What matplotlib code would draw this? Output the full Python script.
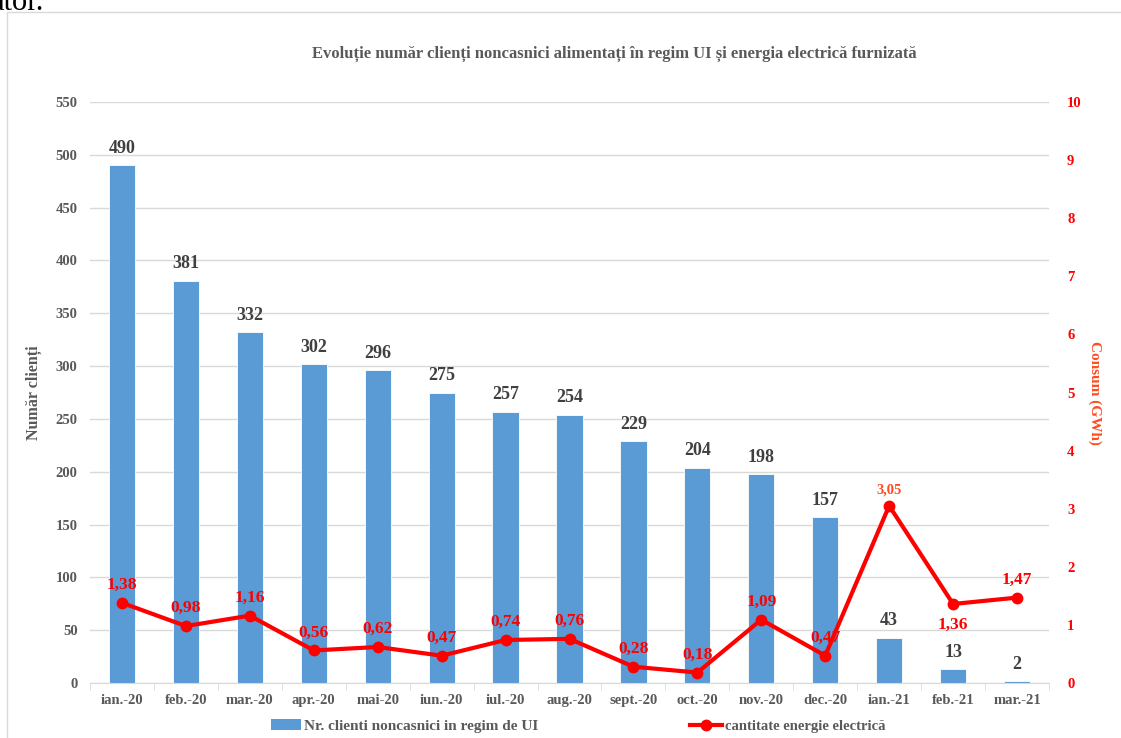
import matplotlib
matplotlib.use("Agg")
import matplotlib.pyplot as plt
from matplotlib.patches import Rectangle
from matplotlib.lines import Line2D
from matplotlib.patches import Patch

months = ["ian.-20", "feb.-20", "mar.-20", "apr.-20", "mai-20", "iun.-20", "iul.-20",
          "aug.-20", "sept.-20", "oct.-20", "nov.-20", "dec.-20", "ian.-21", "feb.-21", "mar.-21"]
clients = [490, 381, 332, 302, 296, 275, 257, 254, 229, 204, 198, 157, 43, 13, 2]
energy = [1.38, 0.98, 1.16, 0.56, 0.62, 0.47, 0.74, 0.76, 0.28, 0.18, 1.09, 0.47, 3.05, 1.36, 1.47]
energy_labels = ["1,38", "0,98", "1,16", "0,56", "0,62", "0,47", "0,74", "0,76", "0,28",
                 "0,18", "1,09", "0,47", "3,05", "1,36", "1,47"]
left_ticks = [0, 50, 100, 150, 200, 250, 300, 350, 400, 450, 500, 550]
right_ticks = [0, 1, 2, 3, 4, 5, 6, 7, 8, 9, 10]

plt.rcParams['font.family'] = ['Liberation Serif', 'DejaVu Serif']
plt.rcParams['font.weight'] = 'bold'

W, H = 1121, 738
fig = plt.figure(figsize=(W / 100, H / 100), dpi=100)

# frame of embedded chart
fig.patches.append(Rectangle((7 / W, -0.05), 1.2, 1 - 12 / H + 0.05, transform=fig.transFigure,
                             fill=False, edgecolor='#D9D9D9', linewidth=1.0))
fig.text(-0.008, 1 - 10 / H, "ator.", fontsize=22, color='black', fontweight='normal',
         ha='left', va='baseline')

ax = fig.add_axes([90 / W, 1 - 683 / H, (1049 - 90) / W, (683 - 102) / H])
x = list(range(len(months)))
grey = '#595959'

ax.bar(x, clients, width=0.41, color='#5B9BD5', edgecolor='white', linewidth=0.6, zorder=2)
ax.set_xlim(-0.5, len(months) - 0.5)
ax.set_ylim(0, 550)
ax.set_yticks(left_ticks)
ax.set_yticklabels([str(t) for t in left_ticks], color=grey, fontsize=10.5, fontweight='bold')
ax.set_xticks(x)
ax.set_xticklabels(months, color=grey, fontsize=10.5, fontweight='bold')
ax.set_xticks([i - 0.5 for i in range(len(months) + 1)], minor=True)
ax.tick_params(axis='x', which='major', length=0, pad=8)
ax.tick_params(axis='x', which='minor', length=5, color='#D9D9D9')
ax.tick_params(axis='y', length=0, pad=9)
ax.grid(axis='y', color='#D9D9D9', linewidth=1.0, zorder=0)
ax.set_axisbelow(True)
for s in ['top', 'right', 'left']:
    ax.spines[s].set_visible(False)
ax.spines['bottom'].set_color('#D9D9D9')
ax.set_ylabel("Număr clienți", color=grey, fontsize=11.5, fontweight='bold', labelpad=10)

for xi, v in zip(x, clients):
    ax.annotate(str(v), (xi, v), xytext=(0, 6), textcoords='offset points',
                ha='center', va='bottom', fontsize=13, fontweight='bold', color='#404040')

ax2 = ax.twinx()
ax2.set_ylim(0, 10)
ax2.set_yticks(right_ticks)
ax2.set_yticklabels([str(t) for t in right_ticks], color='#FF0000', fontsize=10.5, fontweight='bold')
ax2.tick_params(axis='y', length=0, pad=13)
for s in ['top', 'right', 'left', 'bottom']:
    ax2.spines[s].set_visible(False)
ax2.plot(x, energy, color='#FF0000', linewidth=3, marker='o', markersize=7.5, zorder=5)
ax2.set_ylabel("Consum (GWh)", color='#FF4B1E', fontsize=11, fontweight='bold',
               rotation=-90, labelpad=14)

for xi, v, lab in zip(x, energy, energy_labels):
    col = '#FF4B1E' if lab == "3,05" else '#FF0000'
    fs = 10.5 if lab == "3,05" else 12.5
    if lab == "1,36":
        ax2.annotate(lab, (xi, v), xytext=(0, -9), textcoords='offset points',
                     ha='center', va='top', fontsize=fs, fontweight='bold', color=col)
    else:
        ax2.annotate(lab, (xi, v), xytext=(0, 7), textcoords='offset points',
                     ha='center', va='bottom', fontsize=fs, fontweight='bold', color=col)

fig.text(614 / W, 1 - 54 / H,
         "Evoluție număr clienți noncasnici alimentați în regim UI și energia electrică furnizată",
         ha='center', va='center', color=grey, fontsize=12, fontweight='bold')

h1 = Patch(facecolor='#5B9BD5', edgecolor='none')
h2 = Line2D([], [], color='#FF0000', linewidth=3, marker='o', markersize=7.5)
fig.legend([h1], ["Nr. clienti noncasnici in regim de UI"], loc='center left',
           bbox_to_anchor=(257 / W, 1 - 726 / H), frameon=False, fontsize=11,
           labelcolor=grey, handlelength=2.0, handletextpad=0.2)
fig.legend([h2], ["cantitate energie electrică"], loc='center left',
           bbox_to_anchor=(677 / W, 1 - 726 / H), frameon=False, fontsize=10.5,
           labelcolor=grey, handlelength=2.2, handletextpad=0.2)

fig.savefig("out.png", dpi=100)
